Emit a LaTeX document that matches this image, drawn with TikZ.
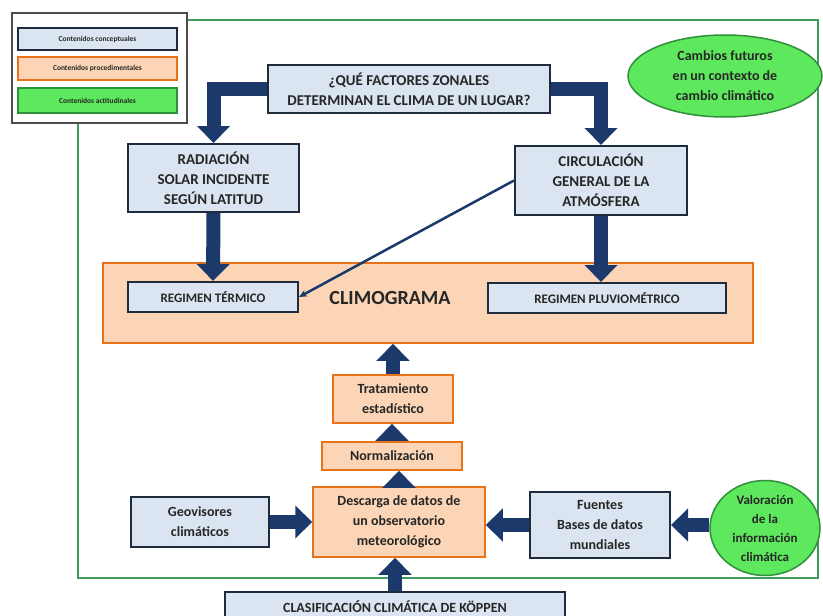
\documentclass[tikz,border=0pt]{standalone}
\usepackage{fontspec}
\setmainfont{Carlito}
\usetikzlibrary{arrows.meta,shapes.geometric}

\definecolor{navyarrow}{HTML}{1B3A6B}
\definecolor{boxline}{HTML}{1E2B3C}
\definecolor{conceptfill}{HTML}{DBE5F1}
\definecolor{procfill}{HTML}{FBD5B5}
\definecolor{procline}{HTML}{E8731A}
\definecolor{actfill}{HTML}{5EE85E}
\definecolor{actline}{HTML}{2F8F3A}
\definecolor{framegreen}{HTML}{3C9C5E}

\begin{document}
\begin{tikzpicture}[x=1pt,y=-1pt,
    concept/.style={draw=boxline, fill=conceptfill, line width=2pt, inner sep=0pt,
        align=center, text=black!85, font=\bfseries\fontsize{15}{20}\selectfont},
    proc/.style={draw=procline, fill=procfill, line width=1.5pt, inner sep=0pt,
        align=center, text=black!85, font=\bfseries\fontsize{14}{20}\selectfont},
    act/.style={ellipse, draw=actline, fill=actfill, line width=1.5pt, inner sep=0pt,
        align=center, text=black!85, font=\bfseries\fontsize{14}{20}\selectfont},
    legendbox/.style={minimum width=159pt, font=\bfseries\fontsize{7.5}{8}\selectfont},
    bigarrow/.style={draw=navyarrow, line width=14pt, -{Triangle[width=32pt,length=17pt]}},
    thinarrow/.style={draw=navyarrow, line width=2.5pt, -{Stealth[length=8pt,width=7pt]}}]
    \useasboundingbox (0,0) rectangle (823,616);
    \fill[white] (0,0) rectangle (823,616);

    % Outer green frame
    \draw[framegreen, line width=2pt] (78,20) rectangle (818,578);

    % Legend
    \node[draw=black!70, fill=white, line width=2pt, minimum width=175pt,
        minimum height=110pt, inner sep=0pt] (legend) at (99.5,68) {};
    \node[concept, legendbox, minimum height=22pt] (legconc) at (97.5,39) {Contenidos conceptuales};
    \node[proc, legendbox, minimum height=23pt] (legproc) at (97.5,68.5) {Contenidos procedimentales};
    \node[proc, legendbox, minimum height=25pt, draw=actline, fill=actfill] (legact) at (97.5,100.5) {Contenidos actitudinales};

    % Upper part
    \node[concept, minimum width=282pt, minimum height=48pt] (question) at (409,89)
        {¿QUÉ FACTORES ZONALES\\DETERMINAN EL CLIMA DE UN LUGAR?};
    \node[concept, minimum width=171pt, minimum height=68pt] (radiacion) at (213.5,178)
        {RADIACIÓN\\SOLAR INCIDENTE\\SEGÚN LATITUD};
    \node[concept, minimum width=172pt, minimum height=69pt] (circulacion) at (601,180.5)
        {CIRCULACIÓN\\GENERAL DE LA\\ATMÓSFERA};
    \node[act, minimum width=194pt, minimum height=82pt] (futuros) at (725,76)
        {Cambios futuros\\en un contexto de\\cambio climático};

    % Climograma
    \node[proc, minimum width=650pt, minimum height=80pt] (climograma) at (428,303) {};
    \node[text=black!85, font=\bfseries\fontsize{20}{24}\selectfont] (climtitle) at (390,298) {CLIMOGRAMA};
    \node[concept, minimum width=170pt, minimum height=30pt, font=\bfseries\fontsize{13}{16}\selectfont]
        (termico) at (213,297) {REGIMEN TÉRMICO};
    \node[concept, minimum width=238pt, minimum height=30pt, font=\bfseries\fontsize{13}{16}\selectfont]
        (pluvio) at (607,298) {REGIMEN PLUVIOMÉTRICO};

    % Lower part
    \node[proc, minimum width=120pt, minimum height=48pt] (tratamiento) at (393,399)
        {Tratamiento\\estadístico};
    \node[proc, minimum width=140pt, minimum height=28pt] (normalizacion) at (392,456) {Normalización};
    \node[proc, minimum width=172pt, minimum height=70pt] (descarga) at (399,522)
        {Descarga de datos de\\un observatorio\\meteorológico};
    \node[concept, minimum width=138pt, minimum height=50pt, font=\bfseries\fontsize{14}{20}\selectfont]
        (geovisores) at (200,522) {Geovisores\\climáticos};
    \node[concept, minimum width=140pt, minimum height=66pt, font=\bfseries\fontsize{14}{20}\selectfont]
        (fuentes) at (600,525) {Fuentes\\Bases de datos\\mundiales};
    \node[act, minimum width=110pt, minimum height=95pt, font=\bfseries\fontsize{13}{19}\selectfont]
        (valoracion) at (765,528) {Valoración\\de la\\información\\climática};
    \node[concept, minimum width=340pt, minimum height=34pt, font=\bfseries\fontsize{14}{18}\selectfont]
        (koppen) at (395,609) {\raisebox{4pt}{CLASIFICACIÓN CLIMÁTICA DE KÖPPEN}};

    % Block arrows
    \draw[bigarrow] (question.west) -| (radiacion.north);
    \draw[bigarrow] (question.east) -| (circulacion.north);
    \draw[bigarrow] (radiacion.south) -- (termico.north);
    \draw[bigarrow] (circulacion.south) -- (circulacion.south |- pluvio.north);
    \draw[thinarrow] (circulacion.west) -- (termico.east);
    \draw[bigarrow] (tratamiento.north) -- (tratamiento.north |- climograma.south);
    \draw[bigarrow] (normalizacion.north) -- (normalizacion.north |- tratamiento.south);
    \draw[bigarrow] (descarga.north) -- (descarga.north |- normalizacion.south);
    \draw[bigarrow] (koppen.north) -- (koppen.north |- descarga.south);
    \draw[bigarrow] (geovisores.east) -- (geovisores.east -| descarga.west);
    \draw[bigarrow] (fuentes.west) -- (fuentes.west -| descarga.east);
    \draw[bigarrow] (fuentes.east -| valoracion.west) -- (fuentes.east);
\end{tikzpicture}
\end{document}
